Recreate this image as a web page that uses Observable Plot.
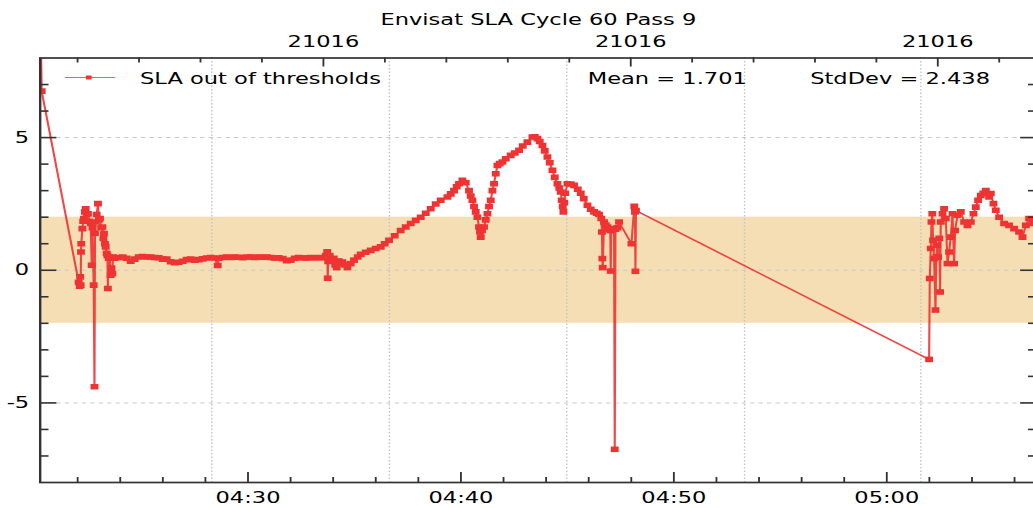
<!DOCTYPE html>
<html><head><meta charset="utf-8">
<script src="https://cdn.jsdelivr.net/npm/d3@7"></script>
<script src="https://cdn.jsdelivr.net/npm/@observablehq/plot@0.6"></script>
<style>
html,body{margin:0;padding:0;background:#fff;overflow:hidden;}
#wrap{position:relative;width:736px;height:508px;transform:scaleX(1.41);transform-origin:0 0;}
#wrap svg{display:block;}
#legend{position:absolute;left:0;top:0;pointer-events:none;}
</style></head><body>
<div id="wrap"></div>
<script>
// ---- data (time in minutes after 04:00 UTC, SLA value) ----
const timeMin = [
20.263, 20.310, 22.048, 22.095, 22.118, 22.142, 22.156, 22.170, 22.222, 22.259,
22.297, 22.339, 22.377, 22.424, 22.485, 22.541, 22.612, 22.659, 22.696, 22.753,
22.790, 22.814, 22.846, 22.893, 22.954, 22.997, 23.048, 23.105, 23.161, 23.208,
23.236, 23.283, 23.316, 23.363, 23.396, 23.419, 23.457, 23.504, 23.551, 23.588,
23.631, 23.659,
23.739, 23.927, 24.115, 24.303, 24.491, 24.679, 24.866, 25.054, 25.242, 25.430,
25.618, 25.806, 25.994, 26.182, 26.369, 26.557, 26.745, 26.933, 27.121, 27.309,
27.497, 27.685, 27.872, 28.060, 28.248, 28.436, 28.577, 28.624, 28.812, 29.000,
29.188, 29.375, 29.563, 29.751, 29.939, 30.127, 30.315, 30.503, 30.690, 30.878,
31.066, 31.254, 31.442, 31.630, 31.818, 32.006, 32.193, 32.381, 32.569, 32.757,
32.945, 33.133, 33.321, 33.509,
33.650, 33.720, 33.744, 33.767, 33.837, 33.931, 34.025, 34.096, 34.166, 34.260,
34.354, 34.434, 34.542, 34.669, 34.824, 34.979, 35.153, 35.293, 35.528, 35.763,
35.998, 36.233, 36.421, 36.623, 36.890, 37.172, 37.407, 37.642, 37.877, 38.112,
38.347, 38.581, 38.816, 39.051, 39.366, 39.521, 39.676, 39.803, 39.911, 40.070,
40.225, 40.380, 40.460, 40.540, 40.615, 40.695, 40.775, 40.850, 40.897, 40.930,
40.991, 41.085, 41.165, 41.245, 41.320, 41.400, 41.479, 41.555, 41.635, 41.714,
41.822, 41.949, 42.104, 42.339, 42.527, 42.729, 42.903, 43.123, 43.358, 43.466,
43.593, 43.701, 43.828, 43.936, 44.063, 44.171, 44.298, 44.406, 44.532, 44.617,
44.687, 44.734, 44.781, 44.814, 44.852, 44.899, 45.002, 45.157, 45.312, 45.486,
45.627, 45.768, 45.942, 46.097, 46.252, 46.378, 46.486, 46.590, 46.623, 46.641,
46.660, 46.721, 46.801, 46.881, 46.966, 47.013, 47.036, 47.060, 47.130, 47.191,
47.224, 47.257, 47.351, 47.426, 48.008, 48.140, 48.173, 48.196, 48.220,
61.987, 62.019, 62.066, 62.099, 62.137, 62.174, 62.221, 62.287, 62.325, 62.362,
62.409, 62.466, 62.503, 62.536, 62.616, 62.691, 62.771, 62.851, 62.926, 63.006,
63.086, 63.161, 63.208, 63.321, 63.475, 63.631, 63.790, 63.945, 64.072, 64.180,
64.288, 64.415, 64.532, 64.650, 64.805, 64.885, 65.011, 65.119, 65.274, 65.509,
65.744, 65.979, 66.214, 66.374, 66.529, 66.683, 66.843, 67.045
];
const sla = [
9.0, 6.75, -0.45, -0.6, -0.25, -0.56, 0.69, 1.0, 1.57, 1.85,
1.95, 2.2, 2.32, 2.1, 2.13, 1.85, 1.76, 0.19, 1.6, -0.56,
-4.39, 1.4, 1.82, 2.1, 2.51, 1.9, 1.95, 1.6, 1.63, 1.2,
1.38, 1.0, 0.88, 0.64, 0.56, -0.69, 0.45, 0.5, -0.19, 0.08,
-0.13, 0.5,
0.45, 0.48, 0.5, 0.45, 0.34, 0.42, 0.5, 0.52, 0.5, 0.5,
0.48, 0.47, 0.42, 0.42, 0.32, 0.28, 0.3, 0.34, 0.4, 0.42,
0.38, 0.4, 0.43, 0.46, 0.48, 0.46, 0.18, 0.45, 0.48, 0.5,
0.48, 0.5, 0.49, 0.47, 0.5, 0.5, 0.48, 0.5, 0.49, 0.5,
0.48, 0.46, 0.47, 0.44, 0.36, 0.38, 0.45, 0.48, 0.47, 0.46,
0.48, 0.47, 0.48, 0.47,
0.55, 0.7, -0.3, 0.33, 0.55, 0.4, 0.45, 0.2, 0.1, 0.35,
0.25, 0.31, 0.2, 0.1, 0.25, 0.38, 0.5, 0.6, 0.68, 0.75,
0.82, 0.88, 1.0, 1.13, 1.3, 1.5, 1.63, 1.76, 1.88, 2.0,
2.15, 2.32, 2.5, 2.64, 2.76, 2.88, 3.0, 3.15, 3.26, 3.39,
3.3, 3.0, 2.8, 2.64, 2.4, 2.2, 2.0, 1.63, 1.45, 1.25,
1.5, 1.63, 1.9, 2.13, 2.4, 2.64, 3.0, 3.26, 3.64, 3.95,
4.02, 4.08, 4.2, 4.33, 4.42, 4.52, 4.68, 4.83, 5.02, 5.03,
4.96, 4.85, 4.7, 4.5, 4.27, 4.05, 3.77, 3.5, 3.26, 3.1,
2.95, 2.64, 2.4, 2.2, 2.55, 2.9, 3.26, 3.25, 3.2, 3.05,
2.9, 2.7, 2.45, 2.3, 2.2, 2.15, 2.1, 1.95, 1.44, 0.44,
0.1, 1.82, 1.7, 1.63, 1.55, 1.5, -0.03, 1.5, 1.55, 1.57,
-6.75, 1.55, 1.6, 1.82, 1.0, 2.41, 2.2, -0.04, 2.25,
-3.36, -0.31, 0.82, 1.82, 2.13, 1.13, 0.44, -1.5, 0.5, 0.94,
0.5, 1.2, -0.82, 1.82, 2.13, 2.32, 1.95, 0.25, 0.69, 1.25,
2.13, 0.25, 1.5, 2.07, 2.2, 1.82, 1.69, 1.82, 2.13, 2.38,
2.64, 2.82, 2.9, 3.0, 2.76, 2.89, 2.51, 2.26, 2.0, 1.76,
1.69, 1.57, 1.44, 1.25, 1.69, 1.95, 1.76, 1.8
];
const xDomainMin = [20.24, 67.09];             // minutes after 04:00
const yDomain = [-8, 8];
const threshold = [-2, 2];
const bottomMajorMin = [30, 40, 50, 60];
const bottomMinorMin = [22, 24, 26, 28, 32, 34, 36, 38, 42, 44, 46, 48, 52, 54, 56, 58, 62, 64, 66];
const topMajorMin = [33.542, 47.975, 62.395];
const topMinorMin = [21.996, 24.882, 27.769, 30.655, 36.429, 39.315, 42.202, 45.088, 50.859, 53.743, 56.627, 59.511, 65.279];
const topTickLabels = ["21016", "21016", "21016"];
const yMajor = [-5, 0, 5];
const yMinor = [-7, -6, -4, -3, -2, -1, 1, 2, 3, 4, 6, 7];
const gridMin = [28.30, 36.64, 44.97, 53.32, 61.60];
const titleText = "Envisat SLA Cycle 60 Pass 9";
const legendText = "SLA out of thresholds";
const meanText = "Mean = 1.701";
const stdText = "StdDev = 2.438";

// ---- build ----
const base = Date.UTC(2007, 6, 17, 4, 0, 0);
const toDate = m => new Date(base + m * 60000);
const points = timeMin.map((m, i) => ({t: toDate(m), v: sla[i]}));
const topLabelMap = new Map(topMajorMin.map((m, i) => [+toDate(m), topTickLabels[i]]));

const W = 736, H = 508, ML = 28, MR = 0.5, MT = 57.5, MB = 26;
const PW = W - ML - MR, PH = H - MT - MB;
const RED = "#ef3333", AXIS = "#333";
const xs = xDomainMin.map(toDate);

const chart = Plot.plot({
  width: W, height: H,
  marginLeft: ML, marginRight: MR, marginTop: MT, marginBottom: MB,
  style: {fontFamily: "'DejaVu Sans', sans-serif", fontSize: "16px", color: "#000", background: "#fff"},
  x: {type: "utc", domain: xs},
  y: {domain: yDomain},
  marks: [
    Plot.rect([{lo: threshold[0], hi: threshold[1]}], {x1: () => xs[0], x2: () => xs[1], y1: "lo", y2: "hi", fill: "#f5deb3"}),
    Plot.ruleY(yMajor, {y: d => d, stroke: "#c9c9c9", strokeDasharray: "3,3"}),
    Plot.ruleX(gridMin.map(toDate), {x: d => d, stroke: "#c4c4c4", strokeDasharray: "1.5,2"}),
    Plot.line(points, {x: "t", y: "v", stroke: RED, strokeWidth: 1.5, strokeOpacity: 0.9, clip: true}),
    Plot.dot(points, {x: "t", y: "v", symbol: "square", r: 3.15, fill: RED, stroke: "none", clip: true}),
    Plot.frame({stroke: AXIS, strokeWidth: 1.7}),
    // bottom ticks (inward)
    Plot.tickX(bottomMajorMin.map(toDate), {x: d => d, insetTop: PH - 10, stroke: AXIS, strokeWidth: 1.3}),
    Plot.tickX(bottomMinorMin.map(toDate), {x: d => d, insetTop: PH - 5, stroke: AXIS, strokeWidth: 1.3}),
    // top ticks (inward)
    Plot.tickX(topMajorMin.map(toDate), {x: d => d, insetBottom: PH - 9, stroke: AXIS, strokeWidth: 1.3}),
    Plot.tickX(topMinorMin.map(toDate), {x: d => d, insetBottom: PH - 5, stroke: AXIS, strokeWidth: 1.3}),
    // left / right ticks (inward)
    Plot.tickY(yMajor, {y: d => d, insetRight: PW - 12, stroke: AXIS, strokeWidth: 1.6}),
    Plot.tickY(yMinor, {y: d => d, insetRight: PW - 6.4, stroke: AXIS, strokeWidth: 1.6}),
    Plot.tickY(yMajor, {y: d => d, insetLeft: PW - 12, stroke: AXIS, strokeWidth: 1.6}),
    Plot.tickY(yMinor, {y: d => d, insetLeft: PW - 6.4, stroke: AXIS, strokeWidth: 1.6}),
    // axis labels
    Plot.axisX({anchor: "bottom", ticks: bottomMajorMin.map(toDate), tickFormat: d3.utcFormat("%H:%M"), tickSize: 0, tickPadding: 9.5, label: null, fill: "#000"}),
    Plot.axisX({anchor: "top", ticks: topMajorMin.map(toDate), tickFormat: d => topLabelMap.get(+d), tickSize: 0, tickPadding: 10.6, label: null, fill: "#000"}),
    Plot.axisY({anchor: "left", ticks: yMajor, tickFormat: d => String(d), tickSize: 0, tickPadding: 7.8, label: null, fill: "#000"}),
    // title, legend text, stats
    Plot.text([titleText], {text: d => d, frameAnchor: "top-left", dx: 353.3, dy: -33.5, textAnchor: "middle", lineAnchor: "bottom", fill: "#000"}),
    Plot.text([legendText], {text: d => d, frameAnchor: "top-left", dx: 70.8, dy: 25.8, textAnchor: "start", lineAnchor: "bottom", fill: "#000"}),
    Plot.text([meanText], {text: d => d, frameAnchor: "top-left", dx: 388.3, dy: 25.8, textAnchor: "start", lineAnchor: "bottom", fill: "#000"}),
    Plot.text([stdText], {text: d => d, frameAnchor: "top-left", dx: 546.1, dy: 25.8, textAnchor: "start", lineAnchor: "bottom", fill: "#000"})
  ]
});
const wrap = document.getElementById("wrap");
wrap.appendChild(chart);

// legend glyph (line with square marker)
const ns = "http://www.w3.org/2000/svg";
const lg = document.createElementNS(ns, "svg");
lg.setAttribute("id", "legend");
lg.setAttribute("width", W); lg.setAttribute("height", H);
const ln = document.createElementNS(ns, "line");
ln.setAttribute("x1", 46.1); ln.setAttribute("x2", 81.6);
ln.setAttribute("y1", 77.5); ln.setAttribute("y2", 77.5);
ln.setAttribute("stroke", "#f36262"); ln.setAttribute("stroke-width", 1);
lg.appendChild(ln);
const sq = document.createElementNS(ns, "rect");
sq.setAttribute("x", 61); sq.setAttribute("y", 75.5);
sq.setAttribute("width", 4); sq.setAttribute("height", 4);
sq.setAttribute("fill", RED);
lg.appendChild(sq);
wrap.appendChild(lg);
</script>
</body></html>
